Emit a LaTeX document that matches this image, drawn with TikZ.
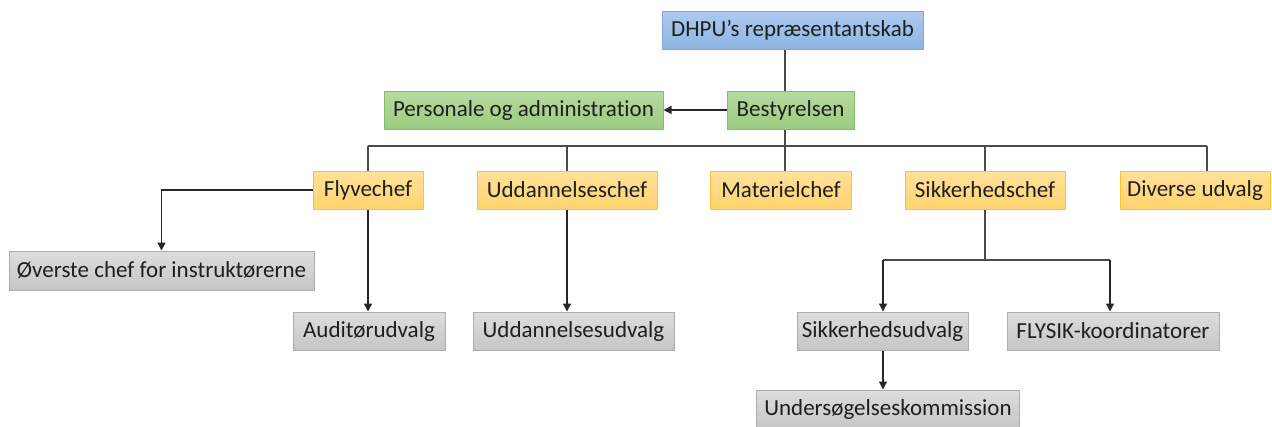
\documentclass[tikz,border=0pt]{standalone}
\usepackage{fontspec}
\setmainfont{Carlito}[Ligatures=NoCommon]
\usetikzlibrary{arrows.meta}
\definecolor{blueT}{HTML}{AFC9EE}
\definecolor{blueB}{HTML}{8DB4E4}
\definecolor{blueD}{HTML}{7FA7DD}
\definecolor{greenT}{HTML}{B6D9A0}
\definecolor{greenB}{HTML}{9CCB7F}
\definecolor{greenD}{HTML}{86BC62}
\definecolor{orT}{HTML}{FFE19A}
\definecolor{orB}{HTML}{FFD36E}
\definecolor{orD}{HTML}{FFC22E}
\definecolor{grT}{HTML}{DDDDDD}
\definecolor{grB}{HTML}{C6C6C6}
\definecolor{grD}{HTML}{ADADAD}
\definecolor{lineC}{HTML}{4A4A4A}
\begin{document}
\begin{tikzpicture}[x=1pt,y=-1pt,
  box/.style={draw, line width=1pt, minimum height=38pt, inner sep=0pt,
    font=\fontsize{23}{27}\selectfont, text=black!88},
  bluebox/.style={box, draw=blueD, top color=blueT, bottom color=blueB},
  greenbox/.style={box, draw=greenD, top color=greenT, bottom color=greenB},
  orbox/.style={box, draw=orD, top color=orT, bottom color=orB},
  grbox/.style={box, draw=grD, top color=grT, bottom color=grB},
  conn/.style={draw=lineC, line width=1.3pt},
  arr/.style={conn, -{Triangle[length=8pt,width=8pt]}, color=black!85}
]
\useasboundingbox (0,0) rectangle (1272,426);

% coordinates for the connector grid
\coordinate (trunk) at (785,146);
\coordinate (busL) at (368,146);
\coordinate (busR) at (1207,146);
\coordinate (sb) at (985,260);
\coordinate (sbL) at (883,260);
\coordinate (sbR) at (1110,260);

% connectors drawn first (behind the boxes)
\draw[conn] (785,49) -- (trunk);
\draw[conn] (busL) -- (busR);
\draw[conn] (567,146) -- (567,171);
\draw[conn] (trunk) -- (785,171);
\draw[conn] (985,146) -- (985,171);
\draw[conn] (busL) -- (368,171);
\draw[conn] (busR) -- (1207,171);

% nodes
\node[bluebox, minimum width=261pt] (dhpu) at (792.5,30) {DHPU’s repræsentantskab};
\node[greenbox, minimum width=127pt] (best) at (790.5,110) {Bestyrelsen};
\node[greenbox, minimum width=279pt] (pers) at (523.5,110) {Personale og administration};

\node[orbox, minimum width=110pt] (fly) at (368,190) {Flyvechef};
\node[orbox, minimum width=180pt] (udd) at (567,190) {Uddannelseschef};
\node[orbox, minimum width=141pt] (mat) at (781,190) {Materielchef};
\node[orbox, minimum width=160pt] (sik) at (985,190) {Sikkerhedschef};
\node[orbox, minimum width=150pt] (div) at (1195,190) {Diverse udvalg};

\node[grbox, minimum width=305pt, minimum height=39pt] (ovr) at (161.5,270.5) {Øverste chef for instruktørerne};
\node[grbox, minimum width=152pt] (aud) at (369,331) {Auditørudvalg};
\node[grbox, minimum width=201pt] (uddu) at (573.5,331) {Uddannelsesudvalg};
\node[grbox, minimum width=171pt] (siku) at (882.5,331) {Sikkerhedsudvalg};
\node[grbox, minimum width=212pt] (flysik) at (1113,331) {FLYSIK-koordinatorer};
\node[grbox, minimum width=263pt] (und) at (888,409) {Undersøgelseskommission};

% arrows
\draw[arr] (best.west) -- (pers.east);
\draw[arr] (fly.west) -| (ovr.north);
\draw[arr] (fly.south) -- (fly.south |- aud.north);
\draw[arr] (udd.south) -- (udd.south |- uddu.north);
\draw[conn] (sik.south) -- (sb);
\draw[conn] (sbL) -- (sbR);
\draw[arr] (sbL) -- (sbL |- siku.north);
\draw[arr] (sbR) -- (sbR |- flysik.north);
\draw[arr] (siku.south -| sbL) -- (sbL |- und.north);
\end{tikzpicture}
\end{document}
